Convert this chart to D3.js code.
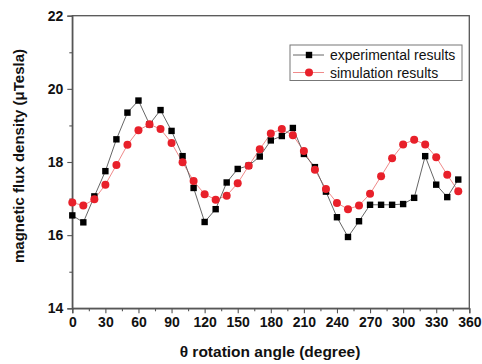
<!DOCTYPE html>
<html><head><meta charset="utf-8">
<script src="https://cdn.jsdelivr.net/npm/d3@7"></script>
<style>body{margin:0;background:#fff}svg{display:block}</style>
</head><body>
<svg id="c" width="482" height="364"></svg>
<script>
const angles = [0,10,20,30,40,50,60,70,80,90,100,110,120,130,140,150,160,170,180,190,200,210,220,230,240,250,260,270,280,290,300,310,320,330,340,350];
const experimental = [16.54,16.35,17.06,17.75,18.62,19.35,19.68,19.03,19.42,18.85,18.16,17.29,16.36,16.71,17.44,17.81,17.9,18.15,18.59,18.71,18.93,18.22,17.86,17.19,16.49,15.95,16.38,16.83,16.83,16.83,16.85,17.02,18.16,17.38,17.04,17.52];
const simulation = [16.89,16.81,16.98,17.38,17.92,18.47,18.87,19.03,18.9,18.52,17.99,17.48,17.12,16.97,17.08,17.42,17.9,18.35,18.78,18.9,18.73,18.3,17.79,17.26,16.88,16.71,16.81,17.13,17.61,18.1,18.48,18.61,18.48,18.13,17.65,17.2];
const xTicks = [0,30,60,90,120,150,180,210,240,270,300,330,360];
const yTicks = [14,16,18,20,22];
const seriesNames = ["experimental results","simulation results"];

const svg = d3.select("#c");
const L=72.3, R=469.3, T=15.7, B=308.3;
const x = d3.scaleLinear().domain([0,360]).range([L,R]);
const y = d3.scaleLinear().domain([14,22]).range([B,T]);
const font = "'Liberation Sans', Arial, sans-serif";
const axisCol = "#555";

// frame
svg.append("rect").attr("x",L).attr("y",T).attr("width",R-L).attr("height",B-T)
  .attr("fill","none").attr("stroke",axisCol).attr("stroke-width",1.3);

// x axis
svg.append("g").attr("transform",`translate(0,${B})`)
  .call(d3.axisBottom(x).tickValues(xTicks).tickSize(5).tickPadding(4).tickFormat(d3.format("d")));
svg.append("g").attr("transform",`translate(0,${B})`)
  .call(d3.axisBottom(x).tickValues(d3.range(15,360,30)).tickSize(3).tickFormat(""))
  .call(g=>g.select(".domain").remove());
// y axis
svg.append("g").attr("transform",`translate(${L},0)`)
  .call(d3.axisLeft(y).tickValues(yTicks).tickSize(5).tickPadding(4).tickFormat(d3.format("d")));
svg.append("g").attr("transform",`translate(${L},0)`)
  .call(d3.axisLeft(y).tickValues([15,17,19,21]).tickSize(3).tickFormat(""))
  .call(g=>g.select(".domain").remove());
svg.selectAll(".domain").attr("stroke",axisCol).attr("stroke-width",1.3);
svg.selectAll(".tick line").attr("stroke",axisCol).attr("stroke-width",1.1);
svg.selectAll(".tick text").attr("font-family",font).attr("font-weight","bold")
  .attr("font-size",14).attr("fill","#111");

// lines
const line = (vals)=>d3.line().x((d,i)=>x(angles[i])).y(d=>y(d))(vals);
svg.append("path").attr("d",line(simulation)).attr("fill","none").attr("stroke","#f08a8a").attr("stroke-width",1);
svg.append("path").attr("d",line(experimental)).attr("fill","none").attr("stroke","#666").attr("stroke-width",1);

// markers
svg.append("g").selectAll("rect").data(experimental).join("rect")
  .attr("x",(d,i)=>x(angles[i])-3.2).attr("y",d=>y(d)-3.2)
  .attr("width",6.4).attr("height",6.4).attr("fill","#000");
svg.append("g").selectAll("circle").data(simulation).join("circle")
  .attr("cx",(d,i)=>x(angles[i])).attr("cy",d=>y(d)).attr("r",4).attr("fill","#e8202a");

// legend
const lg = svg.append("g");
lg.append("rect").attr("x",290).attr("y",45).attr("width",172).attr("height",35.5)
  .attr("fill","#fff").attr("stroke","#777").attr("stroke-width",1);
const ly = [55, 72.5];
lg.append("line").attr("x1",293).attr("x2",324).attr("y1",ly[0]).attr("y2",ly[0]).attr("stroke","#666");
lg.append("rect").attr("x",309-3.2).attr("y",ly[0]-3.2).attr("width",6.4).attr("height",6.4).attr("fill","#000");
lg.append("line").attr("x1",293).attr("x2",324).attr("y1",ly[1]).attr("y2",ly[1]).attr("stroke","#f08a8a");
lg.append("circle").attr("cx",309).attr("cy",ly[1]).attr("r",4).attr("fill","#e8202a");
seriesNames.forEach((s,i)=>{
  lg.append("text").attr("x",330).attr("y",ly[i]+5).text(s)
    .attr("font-family",font).attr("font-size",14).attr("fill","#111");
});

// titles
svg.append("text").attr("x",270).attr("y",357).attr("text-anchor","middle")
  .attr("font-family",font).attr("font-weight","bold").attr("font-size",15.5).attr("fill","#111")
  .text("θ rotation angle (degree)");
svg.append("text").attr("transform",`translate(24,156) rotate(-90)`).attr("text-anchor","middle")
  .attr("font-family",font).attr("font-weight","bold").attr("font-size",15).attr("fill","#111")
  .text("magnetic flux density (μTesla)");
</script>
</body></html>
